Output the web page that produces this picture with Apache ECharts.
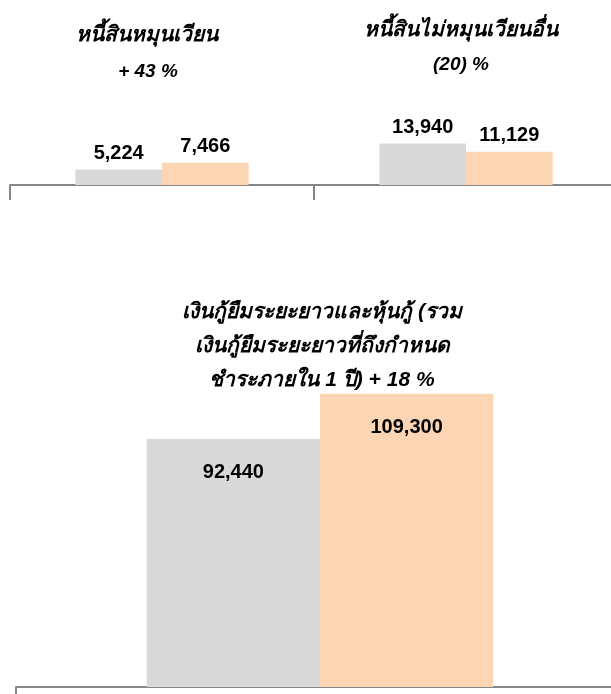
<!DOCTYPE html>
<html>
<head>
<meta charset="utf-8">
<script src="https://cdn.jsdelivr.net/npm/echarts@6/dist/echarts.min.js"></script>
<style>
html,body{margin:0;padding:0;background:#fff;overflow:hidden;width:611px;height:694px;}
#chart{width:630px;height:694px;}
</style>
</head>
<body>
<div id="chart"></div>
<script>
// ---- data ----
const topCategories = ['หนี้สินหมุนเวียน', 'หนี้สินไม่หมุนเวียนอื่น'];
const topPrev = [5224, 13940];
const topCurr = [7466, 11129];
const topChanges = ['+ 43 %', '(20) %'];

const bottomCategories = ['เงินกู้ยืมระยะยาวและหุ้นกู้ (รวม\nเงินกู้ยืมระยะยาวที่ถึงกำหนด\nชำระภายใน 1 ปี)'];
const bottomPrev = [92440];
const bottomCurr = [109300];
const bottomChange = '+ 18 %';

const GREY = '#D9D9D9';
const PEACH = '#FCD5B4';
const AXIS = '#868686';
const FONT = 'Arial, "Liberation Sans", "Noto Sans", "DejaVu Sans", sans-serif';

const fmt = v => v.toLocaleString('en-US');

const chart = echarts.init(document.getElementById('chart'));

const labelTop = {
  show: true, position: 'top', distance: 6,
  color: '#000', fontFamily: FONT, fontWeight: 'bold', fontSize: 20,
  formatter: p => fmt(p.value)
};
const labelInside = {
  show: true, position: 'insideTop', distance: 24,
  color: '#000', fontFamily: FONT, fontWeight: 'bold', fontSize: 20,
  formatter: p => fmt(p.value)
};

const axisCommon = {
  type: 'category',
  boundaryGap: true,
  axisLine: {show: true, lineStyle: {color: AXIS, width: 2}},
  axisTick: {show: true, length: 15, alignWithLabel: false, lineStyle: {color: AXIS, width: 2}},
  axisLabel: {show: false},
  splitLine: {show: false}
};

const txt = (text, x, y, size, lh) => ({
  type: 'text', x: x, y: y,
  style: {
    text: text, fill: '#000', font: 'italic bold ' + size + 'px ' + FONT,
    textAlign: 'center', textVerticalAlign: 'middle', lineHeight: lh || size
  }
});

chart.setOption({
  animation: false,
  grid: [
    {left: 10, width: 608, top: 36, height: 149},
    {left: 16, width: 608, top: 365, height: 322}
  ],
  xAxis: [
    Object.assign({gridIndex: 0, data: topCategories}, axisCommon),
    Object.assign({gridIndex: 1, data: bottomCategories}, axisCommon)
  ],
  yAxis: [
    {gridIndex: 0, type: 'value', min: 0, max: 50000, show: false, splitLine: {show: false}},
    {gridIndex: 1, type: 'value', min: 0, max: 120000, show: false, splitLine: {show: false}}
  ],
  series: [
    {type: 'bar', xAxisIndex: 0, yAxisIndex: 0, data: topPrev, itemStyle: {color: GREY}, barGap: '0%', barCategoryGap: '43%', label: labelTop},
    {type: 'bar', xAxisIndex: 0, yAxisIndex: 0, data: topCurr, itemStyle: {color: PEACH}, barGap: '0%', barCategoryGap: '43%', label: labelTop},
    {type: 'bar', xAxisIndex: 1, yAxisIndex: 1, data: bottomPrev, itemStyle: {color: GREY}, barGap: '0%', barCategoryGap: '43%', label: labelInside},
    {type: 'bar', xAxisIndex: 1, yAxisIndex: 1, data: bottomCurr, itemStyle: {color: PEACH}, barGap: '0%', barCategoryGap: '43%', label: labelInside}
  ],
  graphic: [
    txt(topCategories[0], 147, 35, 21),
    txt(topChanges[0], 148, 72, 19),
    txt(topCategories[1], 461, 30, 21),
    txt(topChanges[1], 461, 65, 19),
    txt(bottomCategories[0] + ' ' + bottomChange, 322, 346, 21, 34)
  ]
});
</script>
</body>
</html>
